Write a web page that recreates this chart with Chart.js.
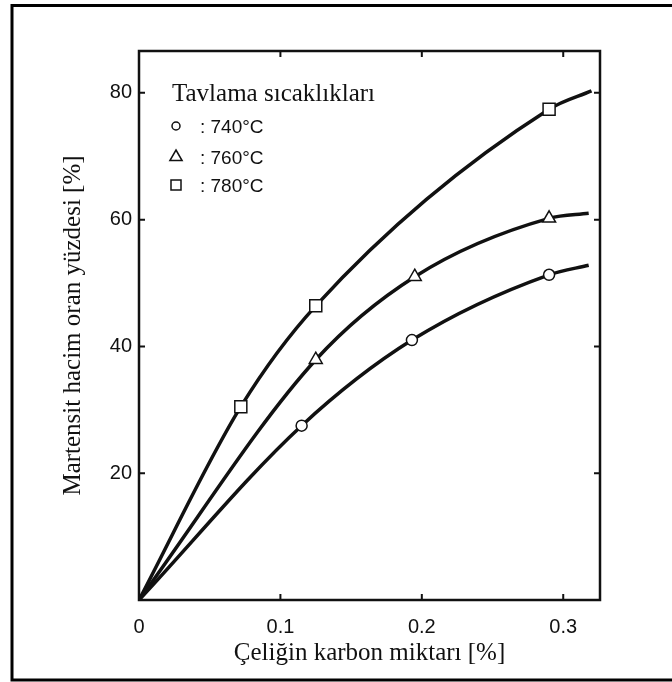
<!DOCTYPE html>
<html>
<head>
<meta charset="utf-8">
<script src="https://cdn.jsdelivr.net/npm/chart.js@4/dist/chart.umd.min.js"></script>
<style>
  html, body { margin: 0; padding: 0; background: #fff; }
  #wrap { width: 672px; height: 682px; position: relative; }
</style>
</head>
<body>
<div id="wrap"><canvas id="chart" width="672" height="682"></canvas></div>
<script>
// ======
// data
// ======
var xTicks = [0, 0.1, 0.2, 0.3];
var yTicks = [20, 40, 60, 80];

var seriesNames = [': 740°C', ': 760°C', ': 780°C'];
var markerStyles = ['circle', 'triangle', 'rect'];

// measured points (markers)
var carbon740 = [0.115, 0.193, 0.29];
var mart740 = [27.5, 41, 51.3];
var carbon760 = [0.125, 0.195, 0.29];
var mart760 = [37.9, 51, 60.2];
var carbon780 = [0.072, 0.125, 0.29];
var mart780 = [30.5, 46.4, 77.4];

// fitted curves
var curveX740 = [0, 0.115, 0.193, 0.29, 0.318];
var curveY740 = [0, 27.5, 41, 51.3, 52.8];
var curveX760 = [0, 0.125, 0.195, 0.29, 0.318];
var curveY760 = [0, 37.9, 51, 60.2, 61];
var curveX780 = [0, 0.072, 0.125, 0.29, 0.32];
var curveY780 = [0, 30.5, 46.4, 77.4, 80.3];

function pts(xs, ys) {
    return xs.map(function(x, i) { return {x: x, y: ys[i]}; });
}

var serif = "'Liberation Serif', 'Times New Roman', serif";
var narrow = "'Liberation Sans Narrow', 'Arial Narrow', 'Liberation Sans', sans-serif";

function markerSet(xs, ys, style, r) {
    return {
        data: pts(xs, ys),
        showLine: false,
        pointStyle: style,
        pointRadius: r,
        pointHoverRadius: r,
        pointBorderWidth: 1.5,
        pointBorderColor: '#111',
        pointBackgroundColor: '#fff'
    };
}

function curveSet(xs, ys) {
    return {
        data: pts(xs, ys),
        showLine: true,
        borderColor: '#111',
        borderWidth: 3.5,
        pointRadius: 0,
        cubicInterpolationMode: 'monotone',
        fill: false
    };
}

function drawMarker(ctx, style, x, y, r) {
    ctx.beginPath();
    if (style === 'circle') {
        ctx.arc(x, y, r, 0, Math.PI * 2);
    } else if (style === 'triangle') {
        ctx.moveTo(x, y - r);
        ctx.lineTo(x + r * 0.87, y + r * 0.5);
        ctx.lineTo(x - r * 0.87, y + r * 0.5);
        ctx.closePath();
    } else {
        ctx.rect(x - r, y - r, 2 * r, 2 * r);
    }
    ctx.fillStyle = '#fff';
    ctx.fill();
    ctx.stroke();
}

// frame, box, inward ticks and the text legend
var decor = {
    id: 'decor',
    beforeDraw: function(chart) {
        var ctx = chart.ctx;
        ctx.save();
        ctx.strokeStyle = '#000';
        ctx.lineWidth = 3;
        ctx.beginPath();
        ctx.moveTo(672, 5.5);
        ctx.lineTo(12, 5.5);
        ctx.lineTo(12, 680);
        ctx.lineTo(672, 680);
        ctx.stroke();
        ctx.restore();
    },
    afterDraw: function(chart) {
        var ctx = chart.ctx;
        var a = chart.chartArea;
        var xs = chart.scales.x, ys = chart.scales.y;
        ctx.save();
        ctx.strokeStyle = '#111';
        ctx.lineWidth = 2.5;
        ctx.strokeRect(a.left, a.top, a.right - a.left, a.bottom - a.top);

        ctx.lineWidth = 2;
        ctx.beginPath();
        xTicks.forEach(function(v) {
            if (v === 0) return;
            var px = xs.getPixelForValue(v);
            ctx.moveTo(px, a.bottom); ctx.lineTo(px, a.bottom - 6);
            ctx.moveTo(px, a.top); ctx.lineTo(px, a.top + 6);
        });
        yTicks.forEach(function(v) {
            var py = ys.getPixelForValue(v);
            ctx.moveTo(a.left, py); ctx.lineTo(a.left + 6, py);
            ctx.moveTo(a.right, py); ctx.lineTo(a.right - 6, py);
        });
        ctx.stroke();

        // legend
        var lx = a.left + 33;
        ctx.fillStyle = '#111';
        ctx.textBaseline = 'alphabetic';
        ctx.font = '25px ' + serif;
        ctx.fillText('Tavlama sıcaklıkları', lx, a.top + 50);

        var rows = [75, 106, 134];
        var sizes = [4, 7, 5];
        ctx.lineWidth = 1.5;
        ctx.font = '19px ' + narrow;
        seriesNames.forEach(function(name, i) {
            drawMarker(ctx, markerStyles[i], lx + 4, a.top + rows[i], sizes[i]);
            ctx.fillStyle = '#111';
            ctx.fillText(name, lx + 28, a.top + rows[i] + 7);
        });
        ctx.restore();
    }
};

var ctx = document.getElementById('chart').getContext('2d');
var chart = new Chart(ctx, {
    type: 'scatter',
    data: {
        datasets: [
            markerSet(carbon740, mart740, 'circle', 5.5),
            markerSet(carbon760, mart760, 'triangle', 7.5),
            markerSet(carbon780, mart780, 'rect', 8.5),
            curveSet(curveX740, curveY740),
            curveSet(curveX760, curveY760),
            curveSet(curveX780, curveY780)
        ]
    },
    plugins: [decor],
    options: {
        responsive: false,
        animation: false,
        events: [],
        layout: {
            padding: {left: 48, top: 51, right: 72, bottom: 0}
        },
        plugins: {
            legend: {display: false},
            tooltip: {enabled: false}
        },
        scales: {
            x: {
                type: 'linear',
                min: 0,
                max: 0.326,
                grid: {display: false, drawTicks: false},
                border: {display: false},
                afterBuildTicks: function(scale) {
                    scale.ticks = xTicks.map(function(v) { return {value: v}; });
                },
                afterFit: function(scale) { scale.height = 82; },
                ticks: {
                    padding: 15,
                    maxRotation: 0,
                    color: '#111',
                    font: {family: narrow, size: 20},
                    callback: function(v) { return v === 0 ? '0' : v.toFixed(1); }
                },
                title: {
                    display: true,
                    text: 'Çeliğin karbon miktarı [%]',
                    color: '#111',
                    font: {family: serif, size: 25},
                    padding: {top: 0, bottom: 14}
                }
            },
            y: {
                type: 'linear',
                min: 0,
                max: 86.6,
                grid: {display: false, drawTicks: false},
                border: {display: false},
                afterBuildTicks: function(scale) {
                    scale.ticks = yTicks.map(function(v) { return {value: v}; });
                },
                afterFit: function(scale) { scale.width = 91; },
                ticks: {
                    padding: 7,
                    color: '#111',
                    font: {family: narrow, size: 20}
                },
                title: {
                    display: true,
                    text: 'Martensit hacim oran yüzdesi [%]',
                    color: '#111',
                    font: {family: serif, size: 25},
                    padding: {top: 10, bottom: 0}
                }
            }
        }
    }
});
</script>
</body>
</html>
